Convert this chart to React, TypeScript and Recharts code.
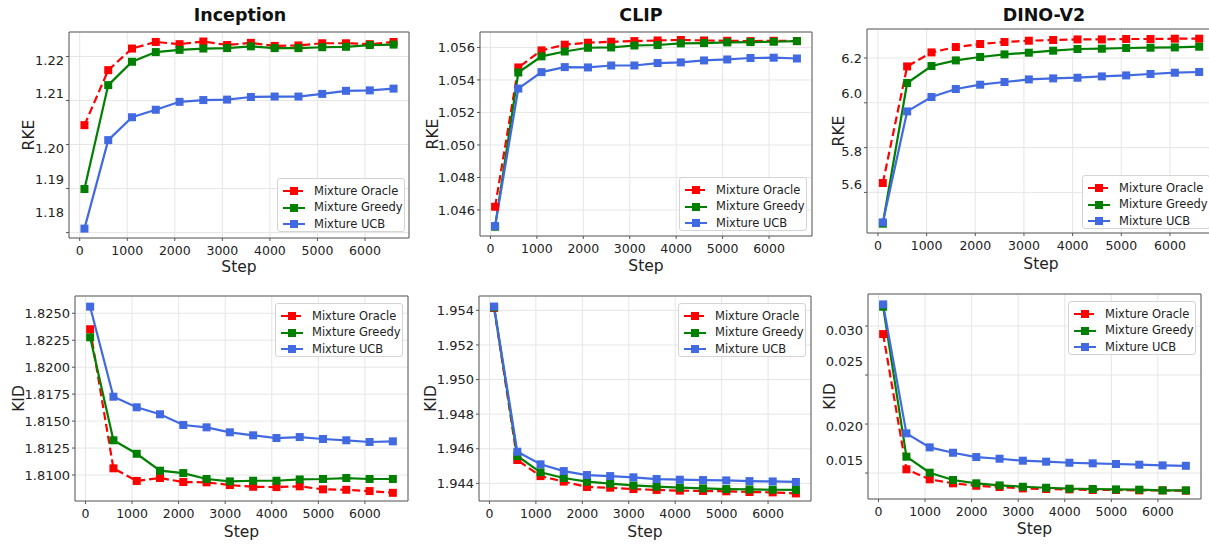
import { CartesianGrid, Legend, Line, LineChart, ReferenceArea, XAxis, YAxis } from "recharts";

const steps = [100, 600, 1100, 1600, 2100, 2600, 3100, 3600, 4100, 4600, 5100, 5600, 6100, 6600];
const stepTicks = [0, 1000, 2000, 3000, 4000, 5000, 6000];

// RKE (top row)
const inceptionRkeOracle = [1.2044, 1.2169, 1.2218, 1.2233, 1.2228, 1.2234, 1.2226, 1.2231, 1.2224, 1.2225, 1.223, 1.223, 1.2228, 1.2233];
const inceptionRkeGreedy = [1.1899, 1.2135, 1.2188, 1.221, 1.2215, 1.2218, 1.2219, 1.2223, 1.2219, 1.2219, 1.2221, 1.2222, 1.2226, 1.2227];
const inceptionRkeUcb = [1.1809, 1.201, 1.2062, 1.2079, 1.2097, 1.2101, 1.2102, 1.2108, 1.2109, 1.2109, 1.2115, 1.2122, 1.2123, 1.2127];
const inceptionRkeTicks = [1.18, 1.19, 1.2, 1.21, 1.22];

const clipRkeOracle = [1.0462, 1.05477, 1.05582, 1.05617, 1.05629, 1.05635, 1.05639, 1.05643, 1.05646, 1.05643, 1.05641, 1.05639, 1.05641, 1.05639];
const clipRkeGreedy = [1.04497, 1.05446, 1.05545, 1.05575, 1.05598, 1.056, 1.05612, 1.05615, 1.05625, 1.05627, 1.05631, 1.05633, 1.05635, 1.05639];
const clipRkeUcb = [1.04501, 1.05347, 1.05448, 1.05479, 1.05477, 1.05489, 1.05489, 1.05504, 1.05508, 1.0552, 1.05526, 1.05535, 1.05537, 1.05532];
const clipRkeTicks = [1.046, 1.048, 1.05, 1.052, 1.054, 1.056];

const dinoRkeOracle = [5.642, 6.1625, 6.225, 6.249, 6.2625, 6.2714, 6.2772, 6.2804, 6.283, 6.283, 6.2848, 6.2848, 6.2862, 6.2862];
const dinoRkeGreedy = [5.4603, 6.0884, 6.1643, 6.1893, 6.2045, 6.2161, 6.2237, 6.2326, 6.2402, 6.2415, 6.2446, 6.246, 6.2473, 6.2504];
const dinoRkeUcb = [5.466, 5.9616, 6.0259, 6.0616, 6.0808, 6.0929, 6.1045, 6.109, 6.112, 6.1179, 6.1223, 6.1286, 6.1344, 6.1375];
const dinoRkeTicks = [5.6, 5.8, 6.0, 6.2];

// KID (bottom row)
const inceptionKidOracle = [1.82352, 1.81062, 1.80945, 1.80972, 1.80935, 1.80932, 1.80907, 1.80891, 1.80888, 1.80895, 1.80867, 1.80863, 1.80851, 1.80835];
const inceptionKidGreedy = [1.82277, 1.81322, 1.81197, 1.8104, 1.81018, 1.80963, 1.80941, 1.80947, 1.80947, 1.80959, 1.80963, 1.80972, 1.80963, 1.80963];
const inceptionKidUcb = [1.82561, 1.81726, 1.81628, 1.81563, 1.81464, 1.81442, 1.81396, 1.81368, 1.81343, 1.81352, 1.81334, 1.81322, 1.81306, 1.81312];
const inceptionKidTicks = [1.81, 1.8125, 1.815, 1.8175, 1.82, 1.8225, 1.825];

const clipKidOracle = [1.95414, 1.94535, 1.94442, 1.9441, 1.94379, 1.94375, 1.94367, 1.94362, 1.94358, 1.94356, 1.94354, 1.9435, 1.94348, 1.94342];
const clipKidGreedy = [1.95417, 1.94558, 1.94464, 1.94431, 1.9441, 1.94398, 1.94388, 1.94381, 1.94375, 1.94371, 1.94367, 1.94365, 1.94363, 1.94362];
const clipKidUcb = [1.95422, 1.94583, 1.9451, 1.94471, 1.94448, 1.94442, 1.94435, 1.94425, 1.94421, 1.94419, 1.94417, 1.94413, 1.94411, 1.94408];
const clipKidTicks = [1.944, 1.946, 1.948, 1.95, 1.952, 1.954];

const dinoKidOracle = [0.02918, 0.01538, 0.01436, 0.01395, 0.0137, 0.01357, 0.01343, 0.01337, 0.01333, 0.01327, 0.01327, 0.01323, 0.01323, 0.0132];
const dinoKidGreedy = [0.03197, 0.01667, 0.01503, 0.01429, 0.01395, 0.01374, 0.0136, 0.0135, 0.0134, 0.01337, 0.01333, 0.0133, 0.01323, 0.01323];
const dinoKidUcb = [0.03221, 0.01905, 0.01762, 0.01707, 0.01663, 0.01646, 0.01626, 0.01616, 0.01605, 0.01599, 0.01592, 0.01585, 0.01578, 0.01574];
const dinoKidTicks = [0.015, 0.02, 0.025, 0.03];

const FONT = "'DejaVu Sans', 'Liberation Sans', sans-serif";
const INK = "#222222";

const series = [
  { key: "oracle", name: "Mixture Oracle", color: "#ff0000", dash: "8 4" },
  { key: "greedy", name: "Mixture Greedy", color: "#008000", dash: undefined },
  { key: "ucb", name: "Mixture UCB", color: "#4169e1", dash: undefined },
];

const rows = (oracle: number[], greedy: number[], ucb: number[]) =>
  steps.map((step, i) => ({ step, oracle: oracle[i], greedy: greedy[i], ucb: ucb[i] }));

const square = (color: string) => (p: any) => (
  <rect key={`${color}-${p.index}`} x={p.cx - 4} y={p.cy - 4} width={8} height={8} fill={color} />
);

function LegendBox() {
  return (
    <div
      style={{
        width: 128,
        height: 54,
        boxSizing: "border-box",
        border: "1px solid #d4d4d4",
        borderRadius: 3,
        background: "rgba(255,255,255,0.85)",
        fontFamily: FONT,
        fontSize: 11.5,
        color: INK,
        padding: "4px 0 0 4px",
        lineHeight: 1,
      }}
    >
      {series.map((s) => (
        <div key={s.key} style={{ display: "flex", alignItems: "center", height: 16.5 }}>
          <svg width={24} height={10}>
            <line x1={1} x2={23} y1={5} y2={5} stroke={s.color} strokeWidth={2} strokeDasharray={s.dash} />
            <rect x={8} y={1} width={8} height={8} fill={s.color} />
          </svg>
          <span style={{ marginLeft: 8, whiteSpace: "nowrap" }}>{s.name}</span>
        </div>
      ))}
    </div>
  );
}

type PanelProps = {
  data: { step: number; oracle: number; greedy: number; ucb: number }[];
  yDomain: [number, number];
  yTicks: number[];
  // the source figure prints some y labels a few pixels off their grid line
  labelShift?: number[];
  digits: number;
  yLabel: string;
  left: number;
  top: number;
  width: number;
  height: number;
  marginTop: number;
  marginRight: number;
  yAxisWidth: number;
  xAxisHeight: number;
  yLabelOffset: number;
  xLabelOffset: number;
  legendLeft: number;
  legendTop: number;
};

function Panel(p: PanelProps) {
  const xDomain: [number, number] = [-225, 6925];
  const yTick = (t: any) => {
    const i = p.yTicks.indexOf(t.payload.value);
    const shift = p.labelShift && i >= 0 ? p.labelShift[i] : 0;
    return (
      <text x={t.x} y={t.y + shift} dy="0.36em" textAnchor="end" fontSize={13} fill={INK}>
        {Number(t.payload.value).toFixed(p.digits)}
      </text>
    );
  };
  return (
    <div style={{ position: "absolute", left: p.left, top: p.top }}>
      <LineChart
        width={p.width}
        height={p.height}
        data={p.data}
        margin={{ top: p.marginTop, right: p.marginRight, bottom: 0, left: 0 }}
      >
        <CartesianGrid stroke="#e6e6e6" strokeWidth={1} />
        <XAxis
          dataKey="step"
          type="number"
          domain={xDomain}
          ticks={stepTicks}
          allowDataOverflow
          height={p.xAxisHeight}
          tickSize={3}
          tickMargin={5}
          axisLine={false}
          tickLine={{ stroke: "#555" }}
          tick={{ fontSize: 12.5, fill: INK }}
          label={{ value: "Step", position: "insideBottom", offset: p.xLabelOffset, style: { fontSize: 15.5, fill: INK } }}
        />
        <YAxis
          type="number"
          domain={p.yDomain}
          ticks={p.yTicks}
          allowDataOverflow
          width={p.yAxisWidth}
          tickSize={3}
          tickMargin={2}
          axisLine={false}
          tickLine={{ stroke: "#555" }}
          tick={yTick}
          label={{
            value: p.yLabel,
            angle: -90,
            position: "insideLeft",
            offset: p.yLabelOffset,
            style: { textAnchor: "middle", fontSize: 15.5, fill: INK },
          }}
        />
        {series.map((s) => (
          <Line
            key={s.key}
            type="linear"
            dataKey={s.key}
            name={s.name}
            stroke={s.color}
            strokeWidth={2.2}
            strokeDasharray={s.dash}
            dot={square(s.color)}
            activeDot={false}
            isAnimationActive={false}
          />
        ))}
        <ReferenceArea
          x1={xDomain[0]}
          x2={xDomain[1]}
          y1={p.yDomain[0]}
          y2={p.yDomain[1]}
          fill="none"
          fillOpacity={0}
          stroke="#5a5a5a"
          strokeWidth={1}
          ifOverflow="visible"
        />
        <Legend
          layout="horizontal"
          verticalAlign="middle"
          align="center"
          content={() => <LegendBox />}
          wrapperStyle={{ left: p.legendLeft, top: p.legendTop, width: 128 }}
        />
      </LineChart>
    </div>
  );
}

function Title({ text, center }: { text: string; center: number }) {
  return (
    <div
      style={{
        position: "absolute",
        left: center - 100,
        width: 200,
        top: 5,
        textAlign: "center",
        fontFamily: FONT,
        fontWeight: "bold",
        fontSize: 17.5,
        color: "#111",
      }}
    >
      {text}
    </div>
  );
}

export default function App() {
  return (
    <div
      style={{
        position: "fixed",
        left: 0,
        top: 0,
        width: 1209,
        height: 544,
        overflow: "hidden",
        background: "#fff",
        fontFamily: FONT,
      }}
    >
      <Title text="Inception" center={240} />
      <Title text="CLIP" center={641} />
      <Title text="DINO-V2" center={1044} />

      <Panel
        data={rows(inceptionRkeOracle, inceptionRkeGreedy, inceptionRkeUcb)}
        yDomain={[1.17877, 1.22556]}
        yTicks={inceptionRkeTicks}
        labelShift={[-20, -9, 4, -7, 4]}
        digits={2}
        yLabel="RKE"
        left={0}
        top={0}
        width={412}
        height={280}
        marginTop={32}
        marginRight={3}
        yAxisWidth={69}
        xAxisHeight={42}
        yLabelOffset={28}
        xLabelOffset={8}
        legendLeft={277}
        legendTop={178}
      />
      <Panel
        data={rows(clipRkeOracle, clipRkeGreedy, clipRkeUcb)}
        yDomain={[1.0444, 1.05695]}
        yTicks={clipRkeTicks}
        digits={3}
        yLabel="RKE"
        left={412}
        top={0}
        width={402}
        height={280}
        marginTop={32}
        marginRight={2}
        yAxisWidth={68}
        xAxisHeight={44}
        yLabelOffset={20}
        xLabelOffset={9}
        legendLeft={267}
        legendTop={177}
      />
      <Panel
        data={rows(dinoRkeOracle, dinoRkeGreedy, dinoRkeUcb)}
        yDomain={[5.4188, 6.3295]}
        yTicks={dinoRkeTicks}
        labelShift={[-8, 4, -9, 0]}
        digits={1}
        yLabel="RKE"
        left={814}
        top={0}
        width={405}
        height={280}
        marginTop={29}
        marginRight={4}
        yAxisWidth={53}
        xAxisHeight={47}
        yLabelOffset={24}
        xLabelOffset={11}
        legendLeft={268}
        legendTop={175}
      />
      <Panel
        data={rows(inceptionKidOracle, inceptionKidGreedy, inceptionKidUcb)}
        yDomain={[1.80759, 1.8266]}
        yTicks={inceptionKidTicks}
        digits={4}
        yLabel="KID"
        left={0}
        top={280}
        width={412}
        height={264}
        marginTop={16}
        marginRight={4}
        yAxisWidth={75}
        xAxisHeight={43}
        yLabelOffset={18}
        xLabelOffset={7}
        legendLeft={275}
        legendTop={23}
      />
      <Panel
        data={rows(clipKidOracle, clipKidGreedy, clipKidUcb)}
        yDomain={[1.94298, 1.95483]}
        yTicks={clipKidTicks}
        digits={3}
        yLabel="KID"
        left={412}
        top={280}
        width={402}
        height={264}
        marginTop={16}
        marginRight={3}
        yAxisWidth={67}
        xAxisHeight={43}
        yLabelOffset={18}
        xLabelOffset={7}
        legendLeft={266}
        legendTop={23}
      />
      <Panel
        data={rows(dinoKidOracle, dinoKidGreedy, dinoKidUcb)}
        yDomain={[0.01235, 0.03327]}
        yTicks={dinoKidTicks}
        labelShift={[-13, 2, -14, 4]}
        digits={3}
        yLabel="KID"
        left={814}
        top={280}
        width={395}
        height={264}
        marginTop={14}
        marginRight={8}
        yAxisWidth={54}
        xAxisHeight={45}
        yLabelOffset={15}
        xLabelOffset={10}
        legendLeft={254}
        legendTop={21}
      />
    </div>
  );
}
